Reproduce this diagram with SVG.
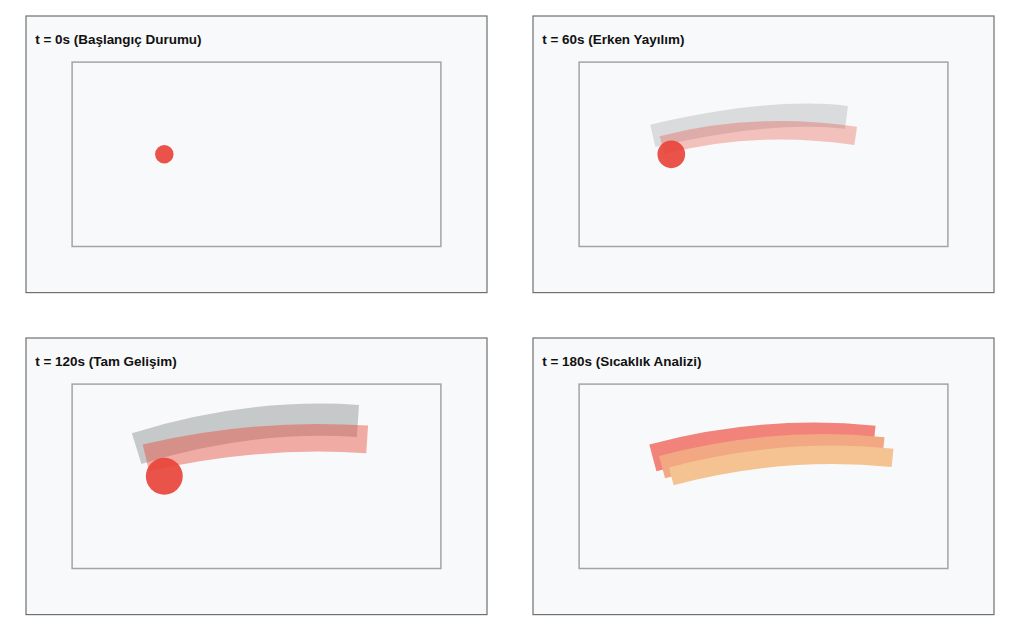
<svg xmlns="http://www.w3.org/2000/svg" width="1024" height="641" viewBox="0 0 1024 641">
<style>
.frame{fill:#f8f9fa;stroke:#6f6f6f;stroke-width:1.3}
.area{fill:none;stroke:#a3a3a3;stroke-width:1.6}
.title{font-family:"Liberation Sans",Arial,sans-serif;font-weight:bold;font-size:14.6px;fill:#111}
.band{fill:none;stroke-linecap:butt}
.src{fill:#e8443a;fill-opacity:0.92}
</style>
<rect width="1024" height="641" fill="#ffffff"/>
<g id="panel-t0" transform="translate(26,16) scale(0.922)">
<rect class="frame" x="0" y="0" width="500" height="300"/>
<text class="title" x="10" y="30">t = 0s (Başlangıç Durumu)</text>
<rect class="area" x="50" y="50" width="400" height="200"/>
<circle class="src" cx="150" cy="150" r="10"/>
</g>
<g id="panel-t60" transform="translate(533,16) scale(0.922)">
<rect class="frame" x="0" y="0" width="500" height="300"/>
<text class="title" x="10" y="30">t = 60s (Erken Yayılım)</text>
<rect class="area" x="50" y="50" width="400" height="200"/>
<path class="band" d="M130,130 Q260,100 340,110" stroke="#8a8e91" stroke-opacity="0.28" stroke-width="25"/>
<path class="band" d="M140,140 Q240,114 350,130" stroke="#e74c3c" stroke-opacity="0.32" stroke-width="20"/>
<circle class="src" cx="150" cy="150" r="15"/>
</g>
<g id="panel-t120" transform="translate(26,338) scale(0.922)">
<rect class="frame" x="0" y="0" width="500" height="300"/>
<text class="title" x="10" y="30">t = 120s (Tam Gelişim)</text>
<rect class="area" x="50" y="50" width="400" height="200"/>
<path class="band" d="M120,120 Q242,82 360,90" stroke="#8a8e91" stroke-opacity="0.45" stroke-width="35"/>
<path class="band" d="M130,130 Q250,102 370,110" stroke="#e74c3c" stroke-opacity="0.45" stroke-width="30"/>
<circle class="src" cx="150" cy="150" r="20"/>
</g>
<g id="panel-t180" transform="translate(533,338) scale(0.922)">
<rect class="frame" x="0" y="0" width="500" height="300"/>
<text class="title" x="10" y="30">t = 180s (Sıcaklık Analizi)</text>
<rect class="area" x="50" y="50" width="400" height="200"/>
<path class="band" d="M130,130 Q250,98 370,110" stroke="#f1837a" stroke-width="30"/>
<path class="band" d="M140,140 Q260,108 380,120" stroke="#f2a882" stroke-width="25"/>
<path class="band" d="M150,150 Q270,118 390,130" stroke="#f4c391" stroke-width="20"/>
</g>
</svg>
